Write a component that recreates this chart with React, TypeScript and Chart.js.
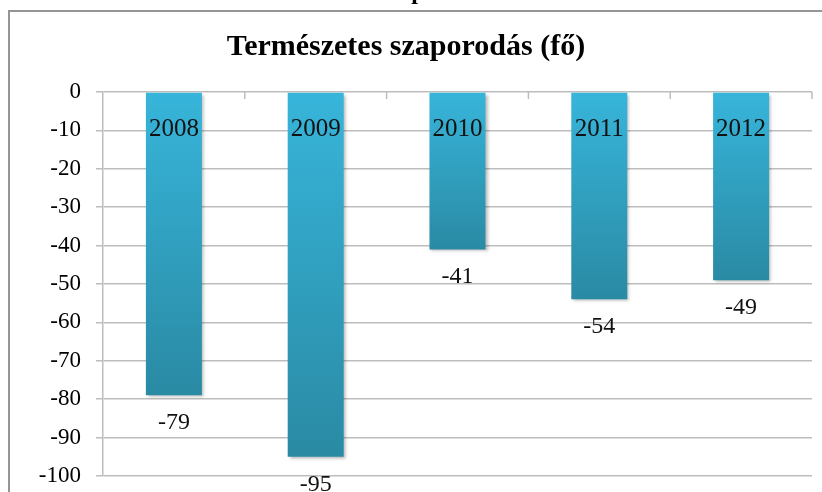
import React, { useEffect, useRef } from "react";
import { Chart, registerables } from "chart.js";

Chart.register(...registerables);

const categories: string[] = ["2008", "2009", "2010", "2011", "2012"];
const values: number[] = [-79, -95, -41, -54, -49];
const chartTitle = "Természetes szaporodás (fő)";
const yMin = -100;
const yMax = 0;
const yStep = 10;

const SERIF = '"Liberation Serif", "Times New Roman", Times, serif';

const decorPlugin = {
  id: "decor",
  beforeDraw(chart: any) {
    const c = chart.ctx;
    c.save();
    c.fillStyle = "#ffffff";
    c.fillRect(0, 0, chart.width, chart.height);
    // cropped heading stub above the frame
    c.fillStyle = "#000";
    c.font = `bold 24px ${SERIF}`;
    c.textAlign = "center";
    c.textBaseline = "alphabetic";
    c.fillText("p", 418, -1);
    // frame
    c.strokeStyle = "#959595";
    c.lineWidth = 2;
    c.strokeRect(9, 11, chart.width + 40, chart.height + 40);
    c.restore();
  },
  beforeDatasetsDraw(chart: any) {
    const c = chart.ctx;
    c.save();
    c.shadowColor = "rgba(0,0,0,0.28)";
    c.shadowBlur = 3;
    c.shadowOffsetX = 2;
    c.shadowOffsetY = 2;
  },
  afterDatasetsDraw(chart: any) {
    chart.ctx.restore();
  },
  afterDraw(chart: any) {
    const c = chart.ctx;
    const xs = chart.scales.x;
    const ys = chart.scales.y;
    const zero = ys.getPixelForValue(0);
    c.save();
    // category boundary tick marks hanging below the zero line
    c.strokeStyle = "#bdbdbd";
    c.lineWidth = 1.5;
    for (let i = 1; i <= categories.length; i++) {
      const x =
        i < categories.length
          ? (xs.getPixelForValue(i - 1) + xs.getPixelForValue(i)) / 2
          : chart.chartArea.right;
      c.beginPath();
      c.moveTo(x, zero);
      c.lineTo(x, zero + 7);
      c.stroke();
    }
    // category labels inside bars
    c.fillStyle = "#111";
    c.textAlign = "center";
    c.textBaseline = "alphabetic";
    c.font = `25px ${SERIF}`;
    categories.forEach((cat, i) => {
      c.fillText(cat, xs.getPixelForValue(i), zero + 44);
    });
    // value labels below bars
    c.font = `24px ${SERIF}`;
    const meta = chart.getDatasetMeta(0);
    values.forEach((v, i) => {
      const el = meta.data[i];
      const yEnd = ys.getPixelForValue(v);
      c.fillText(String(v), el.x, yEnd + 34);
    });
    c.restore();
  },
};

export default function App() {
  const ref = useRef<HTMLCanvasElement | null>(null);

  useEffect(() => {
    if (!ref.current) return;
    const chart = new Chart(ref.current, {
      type: "bar",
      data: {
        labels: categories,
        datasets: [
          {
            data: values,
            backgroundColor: (ctx: any) => {
              const ch = ctx.chart;
              const ys = ch.scales && ch.scales.y;
              if (!ys || ctx.type !== "data") return "#31a6c8";
              const top = ys.getPixelForValue(0);
              const bot = ys.getPixelForValue(ctx.raw);
              if (!isFinite(top) || !isFinite(bot)) return "#31a6c8";
              const g = ch.ctx.createLinearGradient(0, top, 0, bot);
              g.addColorStop(0, "#37b5da");
              g.addColorStop(1, "#2a8aa4");
              return g;
            },
            borderWidth: 0,
            categoryPercentage: 1,
            barPercentage: 0.395,
          },
        ],
      },
      options: {
        responsive: false,
        animation: false,
        devicePixelRatio: 1,
        layout: { padding: { top: 12, right: 10, bottom: 16, left: 0 } },
        plugins: {
          legend: { display: false },
          tooltip: { enabled: false },
          title: {
            display: true,
            text: chartTitle,
            color: "#000",
            font: { family: SERIF, size: 30, weight: "bold", lineHeight: 1.2 },
            padding: { top: 17, bottom: 27 },
          },
        },
        scales: {
          x: {
            type: "category",
            display: false,
          },
          y: {
            min: yMin,
            max: yMax,
            ticks: {
              stepSize: yStep,
              color: "#000",
              font: { family: SERIF, size: 23 },
              padding: 15,
            },
            grid: {
              color: "#bdbdbd",
              lineWidth: 1.5,
              tickLength: 7,
              drawTicks: true,
            },
            border: { color: "#bdbdbd", width: 1.5 },
            afterFit: (s: any) => {
              s.width = 103;
              s.paddingTop = 0;
              s.paddingBottom = 0;
            },
          },
        },
      },
      plugins: [decorPlugin],
    });
    return () => chart.destroy();
  }, []);

  return (
    <div style={{ position: "absolute", left: 0, top: 0, width: 822, height: 492 }}>
      <canvas ref={ref} width={822} height={492} />
    </div>
  );
}
